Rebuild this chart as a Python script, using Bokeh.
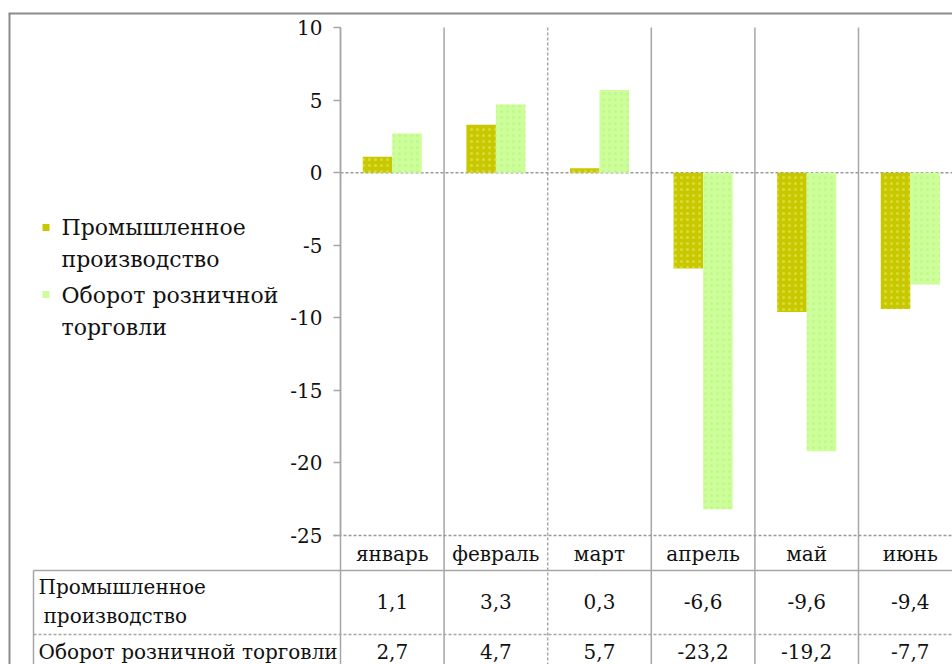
from bokeh.plotting import figure
from bokeh.models import LinearAxis, FixedTicker, Range1d, PrintfTickFormatter
from bokeh.core.properties import value
from bokeh.embed import file_html
from bokeh.resources import INLINE

# ---- data ----
months = ["январь", "февраль", "март", "апрель", "май", "июнь"]
industry = [1.1, 3.3, 0.3, -6.6, -9.6, -9.4]
retail = [2.7, 4.7, 5.7, -23.2, -19.2, -7.7]
legend_lines = [["Промышленное", "производство"], ["Оборот розничной", "торговли"]]
row_labels = [["Промышленное", "производство"], ["Оборот розничной торговли"]]
y_ticks = [10, 5, 0, -5, -10, -15, -20, -25]

# ---- layout helpers (page pixels -> data units) ----
W, H = 952, 664
XU = 103.6            # px per category
X0 = 340              # page x of the value axis
Y_TOP, Y_BOT = 27, 535
YU = (Y_BOT - Y_TOP) / (y_ticks[0] - y_ticks[-1])


def px(page_x):
    return (page_x - X0) / XU


def py(page_y):
    return y_ticks[0] - (page_y - Y_TOP) / YU


xs, xe = px(0), px(W)
ye, ys = py(0), py(H)

FONT = "DejaVu Serif"
GRID = "#a6a6a6"
TXT = "#111111"
C_IND = "#c8c800"
C_RET = "#ccff99"
TBL_FS = "20px"

p = figure(width=W, height=H, output_backend="svg", toolbar_location=None,
           x_range=Range1d(xs, xe), y_range=Range1d(ys, ye),
           x_axis_type=None, y_axis_type=None, min_border=0,
           outline_line_color=None, background_fill_color="white",
           border_fill_color="white")

n = len(months)
idx = list(range(n))
bounds = [i for i in range(n) if i != 2]

# vertical category separators (through chart and table)
p.segment(x0=bounds, y0=[y_ticks[0]] * len(bounds), x1=bounds, y1=[ys] * len(bounds),
          line_color=GRID, line_width=1.5)
p.segment(x0=[2], y0=[y_ticks[0]], x1=[2], y1=[ys], line_color=GRID,
          line_width=1.5, line_dash="3 2")

# zero line and bottom (-25) line, dashed
p.segment(x0=[0, px(333)], y0=[0, y_ticks[-1]], x1=[xe, xe], y1=[0, y_ticks[-1]],
          line_color="#999999", line_width=1.5, line_dash="3 2")

# bars
bw = 0.285
r1 = p.vbar(x=[i + 0.5 - bw / 2 for i in idx], width=bw, top=industry, bottom=0,
            fill_color=C_IND, line_color=None, hatch_pattern="dot",
            hatch_color="#e8e860", hatch_alpha=0.6, hatch_scale=6, hatch_weight=1)
r2 = p.vbar(x=[i + 0.5 + bw / 2 for i in idx], width=bw, top=retail, bottom=0,
            fill_color=C_RET, line_color=None, hatch_pattern="dot",
            hatch_color="#b8f080", hatch_alpha=0.5, hatch_scale=6, hatch_weight=1)

# value axis
ax = LinearAxis(fixed_location=0, bounds=(y_ticks[-1], y_ticks[0]),
                ticker=FixedTicker(ticks=y_ticks, minor_ticks=[]),
                formatter=PrintfTickFormatter(format="%d"))
ax.axis_line_color = GRID
ax.axis_line_width = 1.5
ax.major_tick_line_color = GRID
ax.major_tick_line_width = 1.5
ax.major_tick_out = 7
ax.major_tick_in = 0
ax.minor_tick_line_color = None
ax.major_label_text_font = FONT
ax.major_label_text_font_size = "20px"
ax.major_label_text_color = TXT
ax.major_label_standoff = 11
p.add_layout(ax, "left")

# ---- data table ----
tbl_left = px(33)
row_tops = [py(570), py(634)]
p.segment(x0=[tbl_left], y0=[row_tops[0]], x1=[xe], y1=[row_tops[0]],
          line_color=GRID, line_width=1.5)
p.segment(x0=[tbl_left], y0=[row_tops[1]], x1=[xe], y1=[row_tops[1]],
          line_color=GRID, line_width=1.5, line_dash="3 2")
p.segment(x0=[tbl_left], y0=[row_tops[0]], x1=[tbl_left], y1=[ys],
          line_color=GRID, line_width=1.5)

centers = [i + 0.5 for i in idx]
common = dict(text_font=value(FONT), text_font_size=TBL_FS, text_baseline="middle",
              text_color=TXT)
p.text(x=centers, y=[py(553)] * n, text=months, text_align="center", **common)


def fmt(v):
    return f"{v:.1f}".replace(".", ",")


p.text(x=centers, y=[py(601)] * n, text=[fmt(v) for v in industry],
       text_align="center", **common)
p.text(x=centers, y=[py(651)] * n, text=[fmt(v) for v in retail],
       text_align="center", **common)
p.text(x=[px(38), px(43), px(38)], y=[py(586), py(615), py(651)],
       text=row_labels[0] + row_labels[1], text_align="left", **common)

# outer chart border (left and top edges visible)
p.segment(x0=[px(9), px(8)], y0=[py(13), py(13)], x1=[px(9), xe], y1=[ys, py(13)],
          line_color="#8c8c8c", line_width=2)

# legend (two entries, each label on two lines)
p.scatter(x=[px(45.5), px(45.5)], y=[py(227), py(294)], marker="square", size=7,
          fill_color=[C_IND, C_RET], line_color=None)
p.text(x=[px(61)] * 4, y=[py(227), py(259), py(295), py(327)],
       text=legend_lines[0] + legend_lines[1], text_font=value(FONT),
       text_font_size="22px", text_baseline="middle", text_align="left",
       text_color=TXT)

open("out.html", "w").write(file_html(p, INLINE))
